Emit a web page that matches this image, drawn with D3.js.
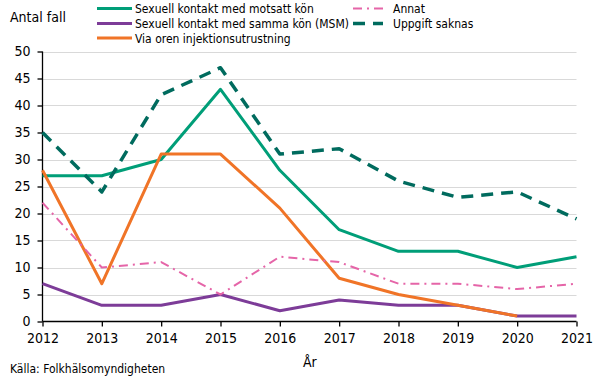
<!DOCTYPE html>
<html><head><meta charset="utf-8">
<script src="https://cdn.jsdelivr.net/npm/d3@7"></script>
<style>body{margin:0;background:#fff}svg{display:block}
text{font-family:"DejaVu Sans Condensed","DejaVu Sans",sans-serif;font-stretch:condensed;fill:#000}</style>
</head><body>
<svg id="c" width="605" height="379"></svg>
<script>
const years = [2012,2013,2014,2015,2016,2017,2018,2019,2020,2021];
const motsatt = [27,27,30,43,28,17,13,13,10,12];
const msm = [7,3,3,5,2,4,3,3,1,1];
const injektion = [28,7,31,31,21,8,5,3,1,null];
const annat = [22,10,11,5,12,11,7,7,6,7];
const saknas = [35,24,42,47,31,32,26,23,24,19];
const yTicks = [0,5,10,15,20,25,30,35,40,45,50];

const series = [
  {name:"Sexuell kontakt med motsatt kön", values:motsatt, color:"#009e78", width:3, dash:null},
  {name:"Sexuell kontakt med samma kön (MSM)", values:msm, color:"#7d3c98", width:3, dash:null},
  {name:"Via oren injektionsutrustning", values:injektion, color:"#f07427", width:3, dash:null},
  {name:"Annat", values:annat, color:"#e565a8", width:2, dash:"9,5,2,5"},
  {name:"Uppgift saknas", values:saknas, color:"#006b5e", width:3.5, dash:"12,8"}
];

const svg = d3.select("#c");
const x = d3.scaleLinear().domain([2012,2021]).range([42.5,576.5]);
const y = d3.scaleLinear().domain([0,50]).range([321.5,51.5]);

// grid
svg.append("g").selectAll("line").data(yTicks.filter(d=>d>0)).join("line")
  .attr("x1",x(2012)).attr("x2",x(2021)).attr("y1",d=>Math.round(y(d))+0.5).attr("y2",d=>Math.round(y(d))+0.5)
  .attr("stroke","#d9d9d9").attr("stroke-width",1);

// axes
const yAxis = d3.axisLeft(y).tickValues(yTicks).tickSize(5).tickPadding(7).tickFormat(d3.format("d"));
const gy = svg.append("g").attr("transform",`translate(${x(2012)},0)`).call(yAxis);
const xAxis = d3.axisBottom(x).tickValues(years).tickSize(5).tickPadding(7).tickFormat(d3.format("d"));
const gx = svg.append("g").attr("transform",`translate(0,${y(0)})`).call(xAxis);
[gy,gx].forEach(g=>{
  g.attr("font-family",null).attr("font-size",null);
  g.selectAll("path,line").attr("stroke","#000").attr("stroke-width",1.3);
  g.selectAll("text").attr("fill","#000").style("font-size","14px");
});
gy.select(".domain").attr("d",`M0,${y(50)}V${y(0)}`);
gx.select(".domain").attr("d",`M${x(2012)},0H${x(2021)}`);

// lines
const line = d3.line().defined(d=>d[1]!=null).x(d=>x(d[0])).y(d=>y(d[1]));
series.forEach(s=>{
  svg.append("path").datum(years.map((yr,i)=>[yr,s.values[i]]))
    .attr("d",line).attr("fill","none").attr("stroke",s.color)
    .attr("stroke-width",s.width).attr("stroke-dasharray",s.dash)
    .attr("stroke-linejoin","round");
});

// texts
svg.append("text").attr("x",10).attr("y",22).text("Antal fall").style("font-size","14px");
svg.append("text").attr("x",303).attr("y",367).text("År").style("font-size","14px");
svg.append("text").attr("x",10).attr("y",373).text("Källa: Folkhälsomyndigheten").style("font-size","12px");

// legend
const legPos = [[97,8.5],[97,23.5],[97,38],[353,8.5],[353,23.5]];
series.forEach((s,i)=>{
  const [lx,ly] = legPos[i];
  const g = svg.append("g");
  g.append("line").attr("x1",lx).attr("x2",lx+(i<3?35:30)).attr("y1",ly).attr("y2",ly)
    .attr("stroke",s.color).attr("stroke-width",s.width).attr("stroke-dasharray",s.dash);
  g.append("text").attr("x",i<3?135:393).attr("y",ly+4.5).text(s.name).style("font-size","12px");
});
</script>
</body></html>
